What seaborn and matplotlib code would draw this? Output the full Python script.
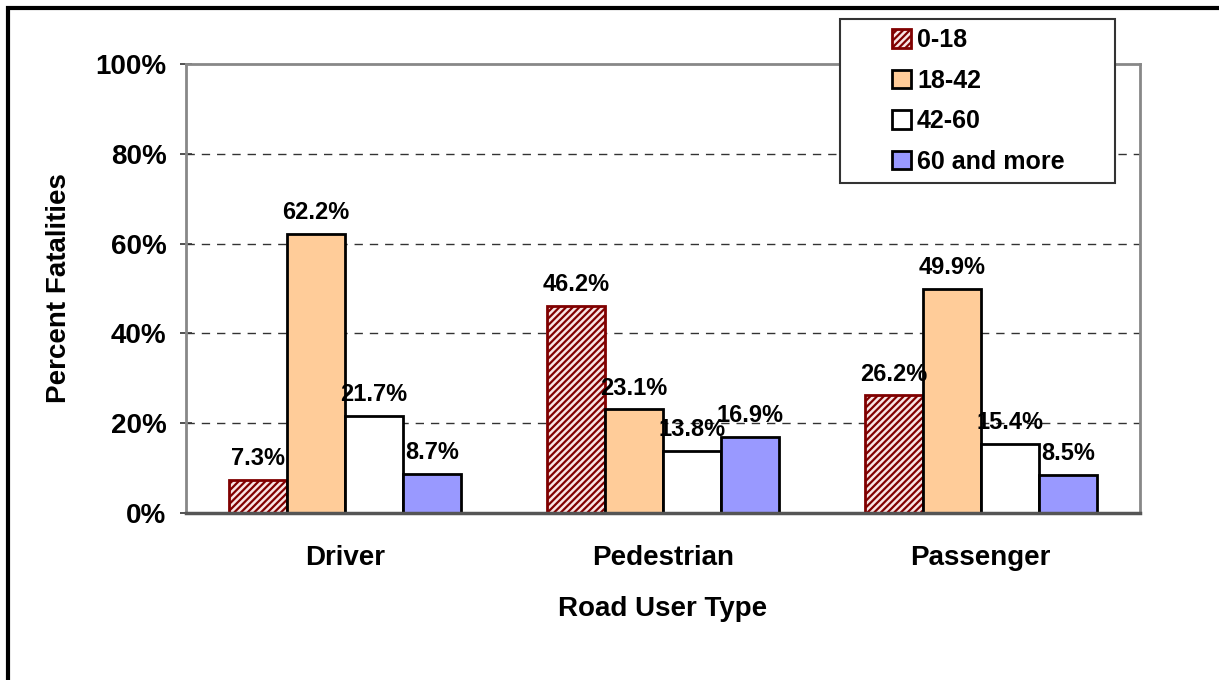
import numpy as np
import pandas as pd
import seaborn as sns
import matplotlib.pyplot as plt
from matplotlib.patches import Rectangle, Patch

# data
user_types = ["Driver", "Pedestrian", "Passenger"]
age_groups = ["0-18", "18-42", "42-60", "60 and more"]
pct_0_18 = [7.3, 46.2, 26.2]
pct_18_42 = [62.2, 23.1, 49.9]
pct_42_60 = [21.7, 13.8, 15.4]
pct_60_more = [8.7, 16.9, 8.5]

df = pd.DataFrame({
    "user": user_types * 4,
    "age": np.repeat(age_groups, 3),
    "pct": pct_0_18 + pct_18_42 + pct_42_60 + pct_60_more,
})

face = ["#f8e4e4", "#ffcc99", "#ffffff", "#9999ff"]
edge = ["#800000", "black", "black", "black"]
hatch = ["/////", None, None, None]

sns.set_theme(style="white")
plt.rcParams["font.family"] = ["Liberation Sans", "DejaVu Sans"]
plt.rcParams["font.weight"] = "bold"
plt.rcParams["text.color"] = "black"
plt.rcParams["axes.labelcolor"] = "black"
plt.rcParams["xtick.color"] = "black"
plt.rcParams["ytick.color"] = "black"
plt.rcParams["hatch.linewidth"] = 1.6

fig = plt.figure(figsize=(12.19, 6.8), dpi=100)
ax = fig.add_axes([0.1526, 0.2456, 0.935 - 0.1526, 0.9059 - 0.2456])

sns.barplot(data=df, x="user", y="pct", hue="age", order=user_types,
            hue_order=age_groups, width=0.73, palette=face, saturation=1,
            legend=False, ax=ax)

for i, cont in enumerate(ax.containers):
    for bar in cont:
        bar.set_facecolor(face[i])
        bar.set_edgecolor(edge[i])
        bar.set_linewidth(2)
        if hatch[i]:
            bar.set_hatch(hatch[i])
        h = bar.get_height()
        ax.annotate(f"{h:.1f}%", (bar.get_x() + bar.get_width() / 2, h),
                    xytext=(0, 7), textcoords="offset points",
                    ha="center", va="bottom", fontsize=17, fontweight="bold")

ax.set_ylim(0, 100)
ax.set_xlim(-0.5, 2.5)
ax.set_yticks(range(0, 101, 20))
ax.set_yticklabels([f"{v}%" for v in range(0, 101, 20)], fontsize=20, fontweight="bold")
ax.set_xticks([0, 1, 2])
ax.set_xticklabels(user_types, fontsize=20, fontweight="bold")
ax.tick_params(axis="x", length=0, pad=23)
ax.set_xticks([-0.5, 0.5, 1.5, 2.5], minor=True)
ax.tick_params(axis="x", which="minor", length=9, width=1.2, color="#333333", direction="out")
ax.tick_params(axis="y", length=8, width=1.2, color="#333333", direction="inout", left=True, pad=10)

for v in [20, 40, 60, 80]:
    ax.axhline(v, color="#333333", linestyle=(0, (6, 5)), linewidth=1, zorder=0)

for s in ["top", "right", "left"]:
    ax.spines[s].set_color("#888888")
    ax.spines[s].set_linewidth(2)
ax.spines["bottom"].set_color("#555555")
ax.spines["bottom"].set_linewidth(2.5)

ax.set_xlabel("Road User Type", fontsize=20, fontweight="bold", labelpad=18)
ax.set_ylabel("Percent Fatalities", fontsize=20, fontweight="bold", labelpad=17)

# legend box drawn separately, legend entries centered inside it
box = Rectangle((840 / 1219, 1 - 183 / 680), 275 / 1219, 164 / 680,
                transform=fig.transFigure, facecolor="white",
                edgecolor="#333333", linewidth=1.5, zorder=9)
fig.patches.append(box)

handles = [Patch(facecolor=face[i], edgecolor=edge[i], hatch=hatch[i], linewidth=2)
           for i in range(4)]
leg = fig.legend(handles, age_groups, loc="center left",
                 bbox_to_anchor=(892 / 1219, 1 - 101 / 680), frameon=False,
                 prop={"size": 18, "weight": "bold"},
                 handlelength=0.75, handleheight=0.75, handletextpad=0.25,
                 labelspacing=0.66, borderpad=0, borderaxespad=0)
leg.set_zorder(10)

# outer chart border
fig.patches.append(Rectangle((8 / 1219, -0.1), 1.2, 1 - 8 / 680 + 0.1,
                             transform=fig.transFigure, fill=False,
                             edgecolor="black", linewidth=3))

fig.savefig("out.png", dpi=100)
